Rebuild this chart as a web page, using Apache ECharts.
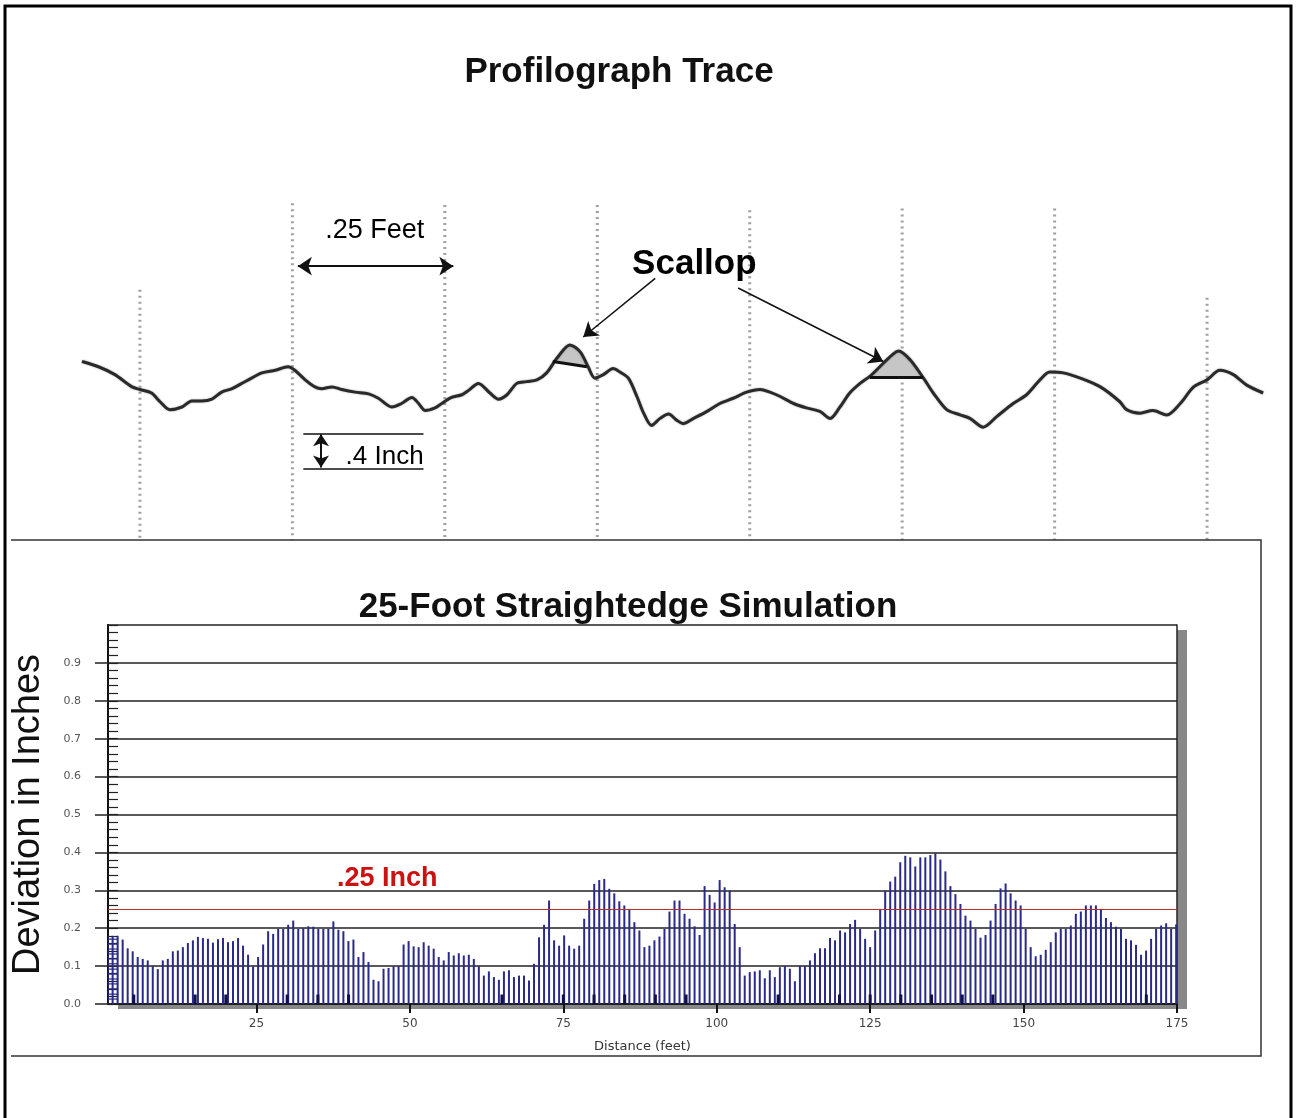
<!DOCTYPE html>
<html>
<head>
<meta charset="utf-8">
<title>Profilograph Trace</title>
<script src="https://cdn.jsdelivr.net/npm/echarts@6/dist/echarts.min.js"></script>
<style>
  html, body { margin: 0; padding: 0; background: #fff; }
  #chart { width: 1296px; height: 1118px; }
</style>
</head>
<body>
<div id="chart"></div>
<script>
// ---- profilograph trace: distance (ft) vs elevation (in) ----
const traceFt = [-0.095, -0.068, -0.041, -0.013, 0.000, 0.019, 0.033, 0.049, 0.069, 0.085,
  0.101, 0.118, 0.134, 0.151, 0.167, 0.183, 0.200, 0.222, 0.243, 0.254,
  0.271, 0.287, 0.298, 0.315, 0.331, 0.353, 0.375, 0.391, 0.413, 0.429,
  0.446, 0.457, 0.468, 0.484, 0.495, 0.511, 0.528, 0.539, 0.555, 0.574,
  0.588, 0.602, 0.618, 0.634, 0.651, 0.667, 0.684, 0.705, 0.722, 0.735,
  0.746, 0.760, 0.776, 0.787, 0.801, 0.815, 0.826, 0.839, 0.853, 0.867,
  0.880, 0.891, 0.908, 0.930, 0.951, 0.973, 0.995, 1.017, 1.033, 1.050,
  1.072, 1.093, 1.115, 1.132, 1.148, 1.164, 1.181, 1.197, 1.219, 1.236,
  1.244, 1.263, 1.285, 1.301, 1.323, 1.345, 1.361, 1.383, 1.405, 1.432,
  1.454, 1.476, 1.492, 1.514, 1.542, 1.575, 1.607, 1.618, 1.640, 1.661,
  1.684, 1.706, 1.728, 1.750, 1.771, 1.793, 1.815, 1.842];
const traceIn = [0.04, -0.02, -0.11, -0.25, -0.28, -0.32, -0.42, -0.51, -0.48, -0.41,
  -0.41, -0.39, -0.31, -0.27, -0.21, -0.15, -0.09, -0.06, -0.02, -0.06,
  -0.17, -0.25, -0.27, -0.25, -0.28, -0.31, -0.33, -0.38, -0.48, -0.44,
  -0.37, -0.44, -0.52, -0.49, -0.44, -0.37, -0.34, -0.29, -0.21, -0.32,
  -0.39, -0.34, -0.21, -0.19, -0.17, -0.09, 0.08, 0.23, 0.15, -0.02,
  -0.15, -0.11, -0.04, -0.08, -0.15, -0.36, -0.55, -0.69, -0.61, -0.56,
  -0.63, -0.67, -0.61, -0.53, -0.44, -0.38, -0.31, -0.28, -0.31, -0.36,
  -0.44, -0.49, -0.53, -0.61, -0.48, -0.32, -0.21, -0.13, 0.02, 0.13,
  0.16, 0.06, -0.15, -0.32, -0.51, -0.57, -0.61, -0.71, -0.59, -0.44,
  -0.34, -0.17, -0.08, -0.09, -0.15, -0.25, -0.42, -0.51, -0.55, -0.52,
  -0.57, -0.44, -0.25, -0.17, -0.06, -0.11, -0.23, -0.32];

// dotted quarter-foot reference lines and how high each one is drawn
const gridFt = [0, 0.25, 0.5, 0.75, 1.0, 1.25, 1.5, 1.75];
const gridTopIn = [0.86, 1.85, 1.83, 1.83, 1.77, 1.79, 1.79, 0.77];

// scallops: trace above the 25-ft chord
const scallopAFt = [0.677, 0.684, 0.695, 0.705, 0.715, 0.722, 0.733];
const scallopAIn = [0.04, 0.08, 0.19, 0.23, 0.20, 0.15, -0.02];
const scallopBFt = [1.197, 1.219, 1.236, 1.244, 1.263, 1.280, 1.284];
const scallopBIn = [-0.14, 0.02, 0.13, 0.16, 0.06, -0.10, -0.14];

// ---- 25-foot straightedge simulation ----
const sampleFt = 0.8175;
const deviation = [
  0.18, 0.18, 0.18,
  0.17, 0.147, 0.139, 0.124, 0.119, 0.115, 0.10, 0.092, 0.115, 0.119,
  0.139, 0.141, 0.15, 0.161, 0.168, 0.177, 0.174, 0.172, 0.162, 0.171,
  0.174, 0.163, 0.166, 0.174, 0.154, 0.13, 0.099, 0.124, 0.157, 0.192,
  0.185, 0.198, 0.198, 0.209, 0.22, 0.198, 0.2, 0.205, 0.204, 0.198,
  0.198, 0.198, 0.218, 0.196, 0.192, 0.166, 0.17, 0.124, 0.137, 0.111,
  0.064, 0.06, 0.093, 0.095, 0.099, 0.10, 0.157, 0.166, 0.152, 0.15,
  0.163, 0.154, 0.146, 0.124, 0.115,
  0.137, 0.128, 0.134, 0.128, 0.13, 0.119, 0.10, 0.075, 0.086, 0.071,
  0.064, 0.086, 0.089, 0.071, 0.075, 0.075, 0.062, 0.106, 0.176, 0.209,
  0.273, 0.168, 0.154, 0.181, 0.154, 0.146, 0.154, 0.225, 0.273, 0.317,
  0.327, 0.33, 0.304, 0.292, 0.271, 0.26, 0.251, 0.216, 0.194, 0.15,
  0.154, 0.168, 0.178, 0.198, 0.244, 0.273, 0.273, 0.238, 0.225, 0.205,
  0.182, 0.311, 0.288, 0.268, 0.327, 0.308, 0.299, 0.211, 0.15, 0.075,
  0.084, 0.086, 0.089, 0.068, 0.089, 0.071, 0.097, 0.10, 0.093, 0.06,
  0.10, 0.10,
  0.115, 0.134, 0.147, 0.147, 0.174, 0.168, 0.194, 0.189, 0.211, 0.222,
  0.198, 0.172, 0.15, 0.194, 0.251, 0.299, 0.323, 0.336, 0.374, 0.391,
  0.387, 0.363, 0.387, 0.387, 0.393, 0.398, 0.381, 0.35, 0.311, 0.29,
  0.264, 0.233, 0.22, 0.198, 0.175, 0.182, 0.22, 0.264, 0.305, 0.318,
  0.292, 0.273, 0.26, 0.198, 0.15, 0.126, 0.13, 0.143, 0.163, 0.189,
  0.198, 0.198, 0.207, 0.238, 0.244, 0.26, 0.26, 0.26, 0.251, 0.227,
  0.216, 0.204, 0.198, 0.172, 0.168, 0.156, 0.13, 0.141, 0.172, 0.198,
  0.207, 0.213, 0.198, 0.21];
// short dark marks at the foot of the bars
const markerFt = [5, 15, 20, 30, 35, 40, 65, 75, 80, 85, 90, 95, 110, 120, 125, 130, 135, 140, 145, 170];
const markerIn = [0.025, 0.025, 0.025, 0.025, 0.025, 0.025, 0.025, 0.025, 0.025, 0.025,
  0.025, 0.025, 0.025, 0.025, 0.025, 0.025, 0.025, 0.025, 0.025, 0.025];
const distanceTicks = [25, 50, 75, 100, 125, 150, 175];
const limitIn = 0.25;
// cross-hatched block over the first three samples
const hatchRows = [0.013, 0.026, 0.04, 0.053, 0.066, 0.079, 0.092, 0.106, 0.119, 0.132, 0.145, 0.158, 0.171];

const FONT = "'Liberation Sans', Arial, sans-serif";
const SMALL = "'DejaVu Sans', sans-serif";

const chart = echarts.init(document.getElementById("chart"));

const scallops = [
  scallopAFt.map((x, i) => [x, scallopAIn[i]]),
  scallopBFt.map((x, i) => [x, scallopBIn[i]]),
];

const solid = (w) => ({ color: "#111", width: w, type: "solid" });
const noteLabel = (text, size, bold, color) => ({
  show: true, position: [0, 0], align: "center", verticalAlign: "middle",
  formatter: text, fontFamily: FONT, fontSize: size,
  fontWeight: bold ? "bold" : "normal", color: color || "#000",
});

const option = {
  animation: false,
  backgroundColor: "#fff",
  title: [
    {
      text: "Profilograph Trace",
      left: 614, top: 50, textAlign: "center",
      textStyle: { fontFamily: FONT, fontSize: 35, fontWeight: "bold", color: "#111" },
    },
    {
      text: "25-Foot Straightedge Simulation",
      left: 623, top: 585, textAlign: "center",
      textStyle: { fontFamily: FONT, fontSize: 35, fontWeight: "bold", color: "#111" },
    },
  ],
  graphic: [
    {
      type: "rect", silent: true, z: 100,
      shape: { x: 5, y: 6, width: 1286, height: 1140 },
      style: { fill: "none", stroke: "#000", lineWidth: 3 },
    },
    {
      type: "polyline", silent: true, z: 100,
      shape: { points: [[11, 540], [1261, 540], [1261, 1056], [11, 1056]] },
      style: { fill: "none", stroke: "#333", lineWidth: 1.5 },
    },
  ],
  grid: [
    { left: 82, top: 190, width: 1183, height: 350 },
    {
      left: 108, top: 625, width: 1069, height: 379,
      show: true, backgroundColor: "#fff", borderWidth: 0,
      shadowColor: "#888", shadowOffsetX: 10, shadowOffsetY: 5, shadowBlur: 0,
    },
  ],
  xAxis: [
    { gridIndex: 0, type: "value", min: -0.095, max: 1.845, show: false },
    {
      gridIndex: 1, type: "value", min: 0.8, max: 175, position: "bottom",
      axisLine: { lineStyle: { color: "#111", width: 2 } },
      axisTick: { customValues: distanceTicks, length: 9, lineStyle: { color: "#111", width: 2 } },
      axisLabel: { customValues: distanceTicks, fontFamily: SMALL, fontSize: 12, color: "#444", margin: 14 },
      splitLine: { show: false },
      name: "Distance (feet)", nameLocation: "middle", nameGap: 36,
      nameTextStyle: { fontFamily: SMALL, fontSize: 13, color: "#333" },
    },
    {
      gridIndex: 1, type: "value", min: 0.8, max: 175, position: "top",
      axisLine: { show: true, lineStyle: { color: "#222", width: 1.5 } },
      axisTick: { show: false }, axisLabel: { show: false }, splitLine: { show: false },
    },
  ],
  yAxis: [
    {
      gridIndex: 1, type: "value", min: 0, max: 1, interval: 0.1, position: "left",
      axisLine: { show: true, lineStyle: { color: "#111", width: 2 } },
      axisTick: { show: true, length: 13, lineStyle: { color: "#222", width: 1.5 } },
      axisLabel: {
        formatter: (v) => v.toFixed(1), showMaxLabel: false,
        fontFamily: SMALL, fontSize: 11, color: "#555", margin: 27,
      },
      splitLine: { lineStyle: { color: "#222", width: 1.5 } },
      name: "Deviation in Inches", nameLocation: "middle", nameGap: 60,
      nameTextStyle: { fontFamily: FONT, fontSize: 38, color: "#111" },
    },
    {
      gridIndex: 1, type: "value", min: 0, max: 1, interval: 0.02, position: "left",
      axisLine: { show: true, lineStyle: { color: "#111", width: 2 } },
      axisTick: { show: true, inside: true, length: 10, lineStyle: { color: "#222", width: 1.2 } },
      axisLabel: { show: false },
      splitLine: { show: false },
    },
    { gridIndex: 0, type: "value", min: -2, max: 2, show: false },
    {
      gridIndex: 1, type: "value", min: 0, max: 1, position: "right",
      axisLine: { show: true, lineStyle: { color: "#222", width: 1.5 } },
      axisTick: { show: false }, axisLabel: { show: false }, splitLine: { show: false },
    },
  ],
  series: [
    {
      name: "quarter-foot lines",
      type: "custom", xAxisIndex: 0, yAxisIndex: 2, z: 1,
      data: gridFt.map((x, i) => [x, gridTopIn[i]]),
      renderItem: (params, api) => {
        const top = api.coord([api.value(0), api.value(1)]);
        const bottom = api.coord([api.value(0), -2]);
        return {
          type: "line",
          shape: { x1: top[0], y1: top[1], x2: bottom[0], y2: bottom[1] },
          style: { stroke: "#a0a0a0", lineWidth: 3, lineDash: [2, 4] },
        };
      },
    },
    {
      name: "scallops",
      type: "custom", xAxisIndex: 0, yAxisIndex: 2, z: 2,
      data: [[0, 0], [1, 0]],
      renderItem: (params, api) => ({
        type: "polygon",
        shape: { points: scallops[api.value(0)].map((p) => api.coord(p)) },
        style: { fill: "#c6c6c6" },
      }),
    },
    {
      name: "trace",
      type: "line", xAxisIndex: 0, yAxisIndex: 2, z: 3,
      data: traceFt.map((x, i) => [x, traceIn[i]]),
      smooth: 0.3, showSymbol: false,
      lineStyle: { color: "#2a2a2a", width: 3, shadowColor: "rgba(0,0,0,0.35)", shadowBlur: 2 },
      markLine: {
        silent: true, symbol: "none", z: 4,
        label: { show: false },
        lineStyle: solid(1.5),
        data: [
          // 25-ft chords over the scallops
          [{ coord: [0.677, 0.04], lineStyle: solid(3) }, { coord: [0.733, -0.02] }],
          [{ coord: [1.197, -0.14], lineStyle: solid(3) }, { coord: [1.284, -0.14] }],
          // .25 feet span
          [{ coord: [0.259, 1.13], symbol: "arrow", symbolSize: 14, lineStyle: solid(2) },
           { coord: [0.514, 1.13], symbol: "arrow", symbolSize: 14 }],
          // scallop pointers
          [{ coord: [0.845, 0.99], symbol: "none", lineStyle: solid(1.5) },
           { coord: [0.727, 0.32], symbol: "arrow", symbolSize: 14 }],
          [{ coord: [0.981, 0.88], symbol: "none", lineStyle: solid(1.5) },
           { coord: [1.219, 0.04], symbol: "arrow", symbolSize: 14 }],
          // .4 inch scale
          [{ coord: [0.268, -0.78], lineStyle: solid(1.5) }, { coord: [0.465, -0.78] }],
          [{ coord: [0.268, -1.18], lineStyle: solid(1.5) }, { coord: [0.465, -1.18] }],
          [{ coord: [0.297, -0.79], symbol: "arrow", symbolSize: 12, lineStyle: solid(2) },
           { coord: [0.297, -1.17], symbol: "arrow", symbolSize: 12 }],
        ],
      },
    },
    {
      name: "trace notes",
      type: "scatter", xAxisIndex: 0, yAxisIndex: 2, z: 5,
      symbolSize: 1, silent: true, itemStyle: { color: "rgba(0,0,0,0)", opacity: 1 },
      data: [
        { value: [0.386, 1.53], label: noteLabel(".25 Feet", 27, false) },
        { value: [0.910, 1.14], label: noteLabel("Scallop", 35, true) },
        { value: [0.402, -1.06], label: noteLabel(".4 Inch", 26, false) },
      ],
    },
    {
      name: "Deviation",
      type: "bar", xAxisIndex: 1, yAxisIndex: 0,
      data: deviation.map((v, i) => [(i + 1) * sampleFt, v]),
      barWidth: 2, barGap: "-100%",
      itemStyle: { color: "#2a2a8a" },
      markLine: {
        silent: true, symbol: "none",
        label: { show: false },
        lineStyle: { color: "#b8322a", width: 1.2, type: "solid" },
        data: [{ yAxis: limitIn }],
      },
    },
    {
      name: "marks",
      type: "bar", xAxisIndex: 1, yAxisIndex: 0,
      data: markerFt.map((x, i) => [x, markerIn[i]]),
      barWidth: 3, barGap: "-100%",
      itemStyle: { color: "#10104a" },
    },
    {
      name: "hatch",
      type: "custom", xAxisIndex: 1, yAxisIndex: 0, z: 3,
      data: hatchRows.map((y) => [sampleFt, y]),
      renderItem: (params, api) => {
        const a = api.coord([api.value(0), api.value(1)]);
        const b = api.coord([api.value(0) * 3, api.value(1)]);
        return {
          type: "line",
          shape: { x1: a[0], y1: a[1], x2: b[0], y2: b[1] },
          style: { stroke: "#2a2a8a", lineWidth: 1.2 },
        };
      },
    },
    {
      name: "limit note",
      type: "scatter", xAxisIndex: 1, yAxisIndex: 0, z: 5,
      symbolSize: 1, silent: true, itemStyle: { color: "rgba(0,0,0,0)", opacity: 1 },
      data: [{ value: [46.4, 0.33], label: noteLabel(".25 Inch", 27, true, "#cc1111") }],
    },
  ],
};

chart.setOption(option);
window.addEventListener("resize", () => chart.resize());
</script>
</body>
</html>
